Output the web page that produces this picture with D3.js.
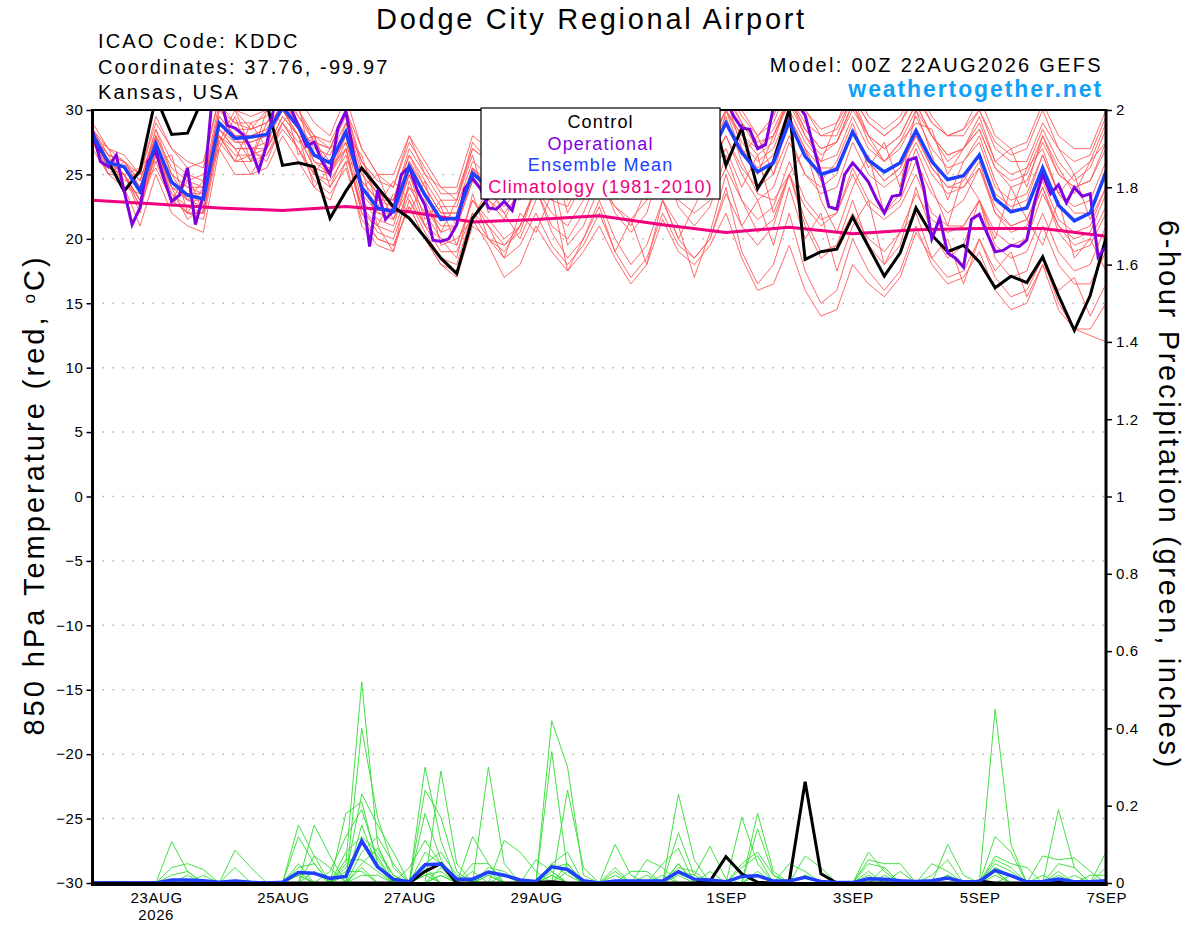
<!DOCTYPE html>
<html>
<head>
<meta charset="utf-8">
<script src="https://cdn.jsdelivr.net/npm/d3@7"></script>
<style>
body { margin: 0; background: #fff; }
svg { display: block; font-family: "Liberation Sans", Arial, Helvetica, sans-serif; }
</style>
</head>
<body>
<script>
// ---- data: 6-hourly (0..384 h from 00Z 22AUG2026) ----
var controlTemp = [27.8,26.0,23.7,25.3,31,28.1,28.2,31, 32,32,32,30.5,25.7,25.9,25.6,21.6,
   23.7,25.5,24.0,22.5,21.6,20.1,18.5,17.3, 21.6,23.2,24.5,25.5,28.5,27,25.5,26.5,
   29.5,27.5,26,27,30,28,27,30.5, 25.7,28.6,23.9,26.0,30.1,18.4,19.0,19.2,
   21.7,19.4,17.1,18.9,22.4,20.3,19.0,19.5, 18.2,16.2,17.1,16.6,18.6,15.6,12.9,15.6, 20.1]

var meanTemp = [28.1,25.9,25.6,23.7,27.4,24.4,23.4,23.1, 29.0,27.8,27.9,28.1,30.2,28.7,26.5,25.9,
   28.3,24.0,22.4,22.1,25.6,23.4,21.5,21.6, 25.1,24.0,23.1,24.5,27.5,25.5,24.5,26.5,
   28.0,26.0,25.0,26.5,28.5,26.5,25.5,26.5, 29.0,26.7,25.2,25.9,29.1,26.4,25.0,25.4,
   28.3,26.1,25.2,25.9,28.4,26.0,24.6,24.9, 26.5,23.1,22.1,22.4,25.5,22.6,21.4,22.0, 25.2]

// operational run is 3-hourly
var operTemp = [28.4,26.0,25.6,26.5,23.7,21.1,22.4,26.0, 26.8,24.7,22.9,23.4,25.5,21.1,23.4,30.2,
   31.5,28.8,28.6,28.1,27.0,25.3,27.3,30.5, 31.5,30.2,28.8,27.2,27.5,26.0,25.0,28.6,
   29.9,26.5,23.9,19.4,23.8,21.5,22.2,25.0, 25.6,23.8,22.6,19.9,19.8,20.0,21.1,23.9,
   24.7,23.9,22.4,22.3,22.9,22.2,24.5,26.5, 28.0,27.0,25.5,24.5,25.0,26.0,27.5,29.0,
   29.5,27.5,26.0,25.0,25.5,26.5,28.0,29.0, 29.5,28.0,26.5,25.5,26.0,27.0,28.5,30.0,
   30.8,29.5,28.6,28.5,27.0,27.3,30.2,31.5, 31.5,30.5,29.6,27.3,25.0,22.5,22.3,25.0,
   25.9,25.2,24.4,23.1,22.0,23.3,23.4,26.1, 26.3,23.9,20.0,21.6,18.9,18.5,17.8,21.5,
   21.9,20.4,19.0,19.1,19.5,19.4,19.9,22.9, 25.0,23.5,24.2,22.8,24.0,23.3,23.5,18.6, 19.4]

// climatology, one value per day at 00Z
var climTemp = [23.0,22.7,22.4,22.2,22.5,22.1,21.3,21.5,21.8,21.1,20.5,20.9,20.4,20.7,20.8,20.8,20.2]

var redMembers = [
  [28.5,27,26.5,25,29,27,26,25.5, 31,30,29.5,30,32,31,29,28, 31,27,25,25,28,26,24,24,
   28,27,26,27,30,28,27,29, 31,29,28,29,31,29,28,29, 32,30,28,29,32,30,28,28,
   31,29,28,29,31,29,28,28, 30,27,26,26,29,27,25,26, 29],
  [27.5,25,24,21,25,22,21,20.5, 27,25,25,25.5,28,26,24,23, 26,21,19.5,19,23,20.5,18.5,18,
   22,21,19.5,21,24,22,21,23, 24.5,22.5,21.5,23,25,23,22,23, 25.5,23,21.5,22.5,26,23,21.5,22,
   25,22.5,21.5,22.5,25,22,21,21, 23,19.5,18.5,19,22,19,17.5,18, 21],
  [28,26,25,22.5,26.5,23.5,22,22, 28,26.5,26.5,27,29,27,25,24, 27,22.5,21,20.5,24,22,20,19.5,
   23,21.5,20,21,24,20.5,18.5,20, 23,20,18,19.5,23,20,18.5,20, 24,19,16.5,18,22,17.5,15,16,
   20,17.5,16,17.5,21,18,16.5,17, 19,16,14.5,15,18,14.5,13,13, 15],
  [28,26.5,26,24.5,28,25.5,24.5,24, 30,28.5,28.5,29,31,29.5,27.5,27, 29.5,25,23.5,23,26.5,24.5,22.5,22.5,
   26,25,24,25.5,28.5,26.5,25.5,27.5, 29,27,26,27.5,29.5,27.5,26.5,27.5, 30,27.5,26,27,30,27.5,26,26.5,
   29.5,27,26,27,29.5,27,25.5,26, 27.5,24,23,23.5,26.5,23.5,22.5,23, 26],
  [28.5,25.5,25,23,27,23.5,22.5,22, 28.5,27,27,27,29.5,28,25.5,25, 27.5,23,21.5,21,25,22.5,20.5,21,
   24.5,23,22,23.5,26.5,24.5,23.5,25.5, 27,25,24,25.5,27.5,25.5,24.5,25.5, 28,25.5,24,25,28,25,23.5,24,
   27.5,25,24,25,27.5,25,23.5,24, 25.5,22,21,21.5,24.5,21.5,20.5,21, 24],
  [27.5,26,25.5,24,28,25,24,23.5, 29.5,28,28,28.5,30.5,29,26,25, 27,22,20,19.5,22.5,20,18,17,
   21,20,19,21,24,23,22.5,25, 27,25.5,25,27,29,27,26,27.5, 30,28,26.5,27.5,31,28.5,27,27.5,
   30,28,27,28,30.5,28,26.5,27, 28.5,25.5,24,24.5,27.5,25,24,24.5, 27],
  [28,26,25.5,23.5,27,24.5,23.5,23, 28.5,27.5,27.5,28,30,28.5,26.5,26, 28.5,24.5,23,22.5,26,24,22,22,
   25.5,24.5,23.5,25,28,26,25,27, 28.5,26.5,25.5,27,29,27,26,27, 29.5,26,23.5,23,25,21.5,19,19.5,
   22,20,19,20.5,23.5,21.5,20.5,21, 23,20.5,19.5,20,23.5,21,20,20.5, 23.5],
  [28.5,26.5,26,24.5,28.5,26,25,24.5, 30.5,29,29,29.5,31.5,30,28,27.5, 30,26,24.5,24,27.5,25.5,23.5,23.5,
   27,26,25,26.5,29.5,27.5,27,29, 31,29,28,29.5,31.5,29.5,28.5,29.5, 31.5,29,27.5,28,31,28.5,27,27.5,
   30.5,28,27,28,30.5,28,26.5,27, 28.5,25.5,24.5,25,28,25,24,24.5, 27.5],
  [28,25.5,25,22.5,26,23,22,21.5, 27.5,26,26.5,26.5,29,27,25,24.5, 26.5,22.5,20.5,20,23.5,21,19,19,
   22,20,18.5,19.5,22,19.5,18,19.5, 22,19,17,18.5,22,19.5,18.5,20, 23.5,21,19.5,21,25,22.5,21,22,
   25.5,23,22,23,26,23.5,22,23, 25.5,22.5,21,21.5,24,21,19.5,20, 22.5],
  [27.5,26,25,23,26.5,24,23.5,23.5, 29,28,28,28.5,30.5,29,27,26.5, 29,24.5,23,23,26.5,24,22,22,
   25.5,24,23,24,26.5,24,23,25, 27,25,24.5,26,28,26,25,26.5, 29,27,25.5,26.5,29.5,27,25.5,25.5,
   28.5,26,24.5,25.5,28,25.5,24,24, 26,22,20.5,21,24,20.5,19,19.5, 22],
  [28,26,25.5,23.5,27.5,24.5,23,23, 29,27.5,27.5,28,30,28.5,26,25.5, 28,23.5,22,21.5,25,22.5,21,21,
   24.5,23.5,22.5,24,27,25,24,26, 28,26,25,26.5,28.5,26.5,25.5,27, 30,28,27,28,31,29,28,28.5,
   31,29,28,29,31.5,29,28,28.5, 30,27.5,26.5,27,30,27,26,26.5, 29.5],
  [28.5,26,25,23,26.5,23,22,22, 28,26,26,26.5,28.5,27,24.5,23.5, 25.5,21.5,20,19.5,22.5,20,18,17.5,
   21.5,19.5,17,18,21,19,17.5,19, 21,18.5,16.5,18,21.5,19,18,19.5, 22,18.5,16,16.5,19.5,16,14,14.5,
   18,16.5,15.5,17,20.5,18.5,17,17.5, 20,17,15.5,16,18.5,15,13,12.5, 12],
  [28,26.5,26,24,28.5,25,24,24, 30,29,28.5,29,31,30,27.5,27, 30,25.5,23.5,23,27,25,23,23,
   27,26,25,26.5,29,27,26,28, 30,28,27,28.5,30.5,28.5,27.5,29, 32,29.5,28,29.5,32.5,30,28.5,29,
   32,29.5,28.5,29.5,32,29.5,28,28.5, 31,28,27,27.5,30.5,28,27,27, 30],
  [27.5,25.5,25,23,27,24,23,22.5, 28.5,27,27,27.5,30,28,25.5,25, 28,24,22,22,26,23.5,21.5,21.5,
   25.5,24,23,24.5,27.5,25.5,24.5,26.5, 28.5,26.5,25.5,27,29,26.5,25,26, 28,25,23,24,27.5,25,24,25,
   28.5,26,24.5,25.5,28,25.5,24,24.5, 26.5,23.5,22.5,23,26.5,23.5,22,22, 25.5],
  [28,27,24.5,25,26,26.5,22,24, 27,29.5,26,30,29,27.5,28,24, 26,25.5,21,23.5,22,24.5,19.5,20,
   21.5,24,22,20,23,25,19.5,21, 24,22.5,21,24,23,20,22.5,25, 27,24,26.5,22,25,27,23,20.5,
   24,26.5,22,23.5,27,24,21,25, 23,20,24,21.5,19.5,23,18.5,20, 17.5],
  [27,25,26,24,25.5,23,25,22, 28,26,29,27,31,26.5,28,25, 29,26,24,21.5,24,23,20.5,23,
   26.5,22,24,23,25,26.5,22,24.5, 27,24.5,26.5,23,28,25,27.5,24, 30,26.5,28,25,29.5,27,24.5,26,
   29,25.5,27.5,24,30,26.5,23,26, 28,24.5,22,25.5,27,23.5,25,21.5, 24],
  [28.5,26.5,24,23.5,28,22.5,24.5,25, 27.5,30,27,26,29,30.5,25,27, 28,26.5,22.5,24.5,23,21,22.5,19.5,
   23,21,18.5,22,20.5,23.5,17.5,20, 22.5,19,21.5,18,23,21,17,20.5, 25,21,23,19.5,24,20,22,17.5,
   21,23,18,20.5,22,18.5,20,16.5, 20,17.5,19,15.5,18,16,17,14, 16.5],
  [27.5,26,25,25.5,27,25,23,24.5, 29.5,28,26,29,30,28,27.5,26, 27.5,24,25,22,25,21.5,23,21,
   25.5,23,21.5,24,27,23,25,24, 29,26,23.5,26.5,29.5,25,26,28, 31,27,25,28,30.5,28,26,29,
   31,28,26,27.5,29,28.5,25,27, 29.5,26,27,24,28,25.5,23.5,26, 27.5],
  [29,27,26,25,29.5,27,25.5,26, 31,30,28.5,30,32,29.5,28,27, 30,27,25,24,28,25,24,23,
   27.5,26,24.5,26,29,27.5,26,28, 31.5,29,27.5,28.5,32,30,28,30, 31,29,27,28.5,31,28,26.5,27.5,
   30.5,27.5,26,27.5,30,28,26,27, 29,26,25,25.5,28.5,26,24.5,25.5, 28.5],
  [28,25,25,22,27,24,21.5,22.5, 28,27,25,27,29.5,28,24,25.5, 27,22,21,19,24.5,21,20,18.5,
   23.5,20,19.5,20.5,24,21,20,22, 25,22,20.5,22,26,22.5,21,22.5, 26.5,23,20.5,21.5,25,21,18.5,19.5,
   23,19.5,18,19.5,24,20.5,18.5,19.5, 23,18.5,17,17.5,21,18,16.5,16.5, 19]
]

// 6-hour precipitation (inches)
var controlPrecip = [0,0,0,0,0,0,0,0, 0,0,0,0,0,0,0,0, 0,0,0,0,0,.03,.05,0,
   0,0,0,0,.002,.003,0,0, 0,0,0,0,0,0,0,.005, .068,.024,.002,0,.005,.262,.024,0,
   0,0,0,0,0,0,0,0, .005,0,0,0,0,.002,0,0, 0]

var meanPrecip = [0,0,0,0,0,.008,.008,.006, .002,.005,.002,0,.002,.027,.025,.012,
   .017,.109,.042,.01,.003,.047,.049,.01, .01,.028,.02,.008,.004,.042,.035,.006,
   0,.005,.005,.005,.005,.029,.01,.008, .003,.017,.019,.005,.005,.015,.004,.001,
   .001,.011,.01,.006,.004,.006,.013,.003, .004,.033,.019,.003,.004,.01,.003,.003, .006]

var greenMembers = [
  [0,0,0,0,0,.107,.03,0, 0,0,0,0,0,.02,0,0, .05,.52,.10,0,0,.03,0,0, 0,0,0,0,0,.42,.30,.02,
   0,0,0,0,0,.05,0,0, 0,0,0,0,0,0,0,0, 0,0,0,0,0,0,0,0, 0,.45,.10,0,0,.02,0,0, 0],
  [0,0,0,0,0,.04,.05,.035, 0,0,0,0,0,0,.15,.07, 0,.40,.17,.04,0,0,.29,.05, 0,0,0,0,0,.34,.03,0,
   0,0,0,0,0,.23,.06,0, 0,0,0,0,0,0,0,0, 0,.08,.03,0,0,0,0,0, 0,0,0,0,0,0,0,0, 0],
  [0,0,0,0,0,0,0,0, 0,.085,.04,0,0,.15,.07,0, .02,.23,.15,.08,0,.30,.11,0, 0,.03,0,0,0,0,.24,.04,
   0,0,0,0,0,0,0,0, 0,0,.18,.03,0,0,0,0, 0,0,0,0,0,0,.10,.02, 0,0,0,0,0,.19,.04,0, 0],
  [0,0,0,0,0,0,.02,0, 0,.04,0,0,0,.12,.05,0, .18,.21,.05,0,0,.24,.17,.03, 0,.30,.05,0,0,0,0,0,
   0,.10,.02,0,0,0,0,0, 0,.17,.05,0,0,0,0,0, 0,0,0,0,0,0,0,0, 0,.12,.08,0,0,0,0,0, .08],
  [0,0,0,0,0,0,0,0, 0,0,0,0,0,.05,0,.03, .12,.19,.06,0,.04,.11,.05,0, .12,.05,0,0,0,.05,.08,0,
   0,0,0,0,0,.13,.02,.095, .01,0,0,0,0,.07,.04,0, 0,0,0,0,0,0,0,0, 0,.07,.05,.04,0,0,0,0, 0],
  [0,0,0,0,0,0,0,0, 0,0,0,0,0,0,.07,.04, 0,.15,.04,0,0,.18,.06,0, 0,0,.11,.08,.03,0,0,0,
   0,0,0,.06,.04,0,0,0, 0,0,.14,.02,0,0,0,0, 0,.06,.05,.05,0,.02,.06,0, 0,0,0,0,.07,.06,.065,.03, 0],
  [0,0,0,0,0,0,0,0, 0,0,0,0,0,.03,0,0, .08,.12,.08,.02,0,0,.04,0, .05,.05,0,0,.06,.03,0,0,
   0,.04,0,0,.05,.09,0,0, 0,0,0,0,.05,.03,0,0, 0,0,0,0,0,.05,.03,0, 0,.05,.03,0,0,0,0,0, .04],
  [0,0,0,0,0,0,0,0, 0,0,0,0,0,0,0,0, 0,.08,.12,.05,0,.05,.08,.02, 0,0,0,0,0,.04,.05,0,
   0,0,0,0,0,.04,.03,0, 0,.05,.08,.02,0,0,0,0, 0,.05,.04,0,0,0,0,0, 0,0,0,0,0,.05,.04,0, 0],
  [0,0,0,0,0,.02,.03,0, 0,0,0,0,0,.04,.05,0, .04,.10,.07,0,0,.08,.05,0, 0,.04,.03,0,0,0,.05,0,
   0,0,.03,.03,0,.05,0,.03, 0,.04,.07,0,0,0,0,0, 0,0,.04,0,0,0,0,0, 0,.04,.02,0,0,0,0,0, 0],
  [0,0,0,0,0,0,0,.02, 0,0,0,0,0,0,.03,0, .06,.06,.03,0,0,0,.02,0, .03,0,0,0,0,.05,.02,0,
   0,.03,0,0,0,.03,.02,0, 0,0,0,0,0,.02,0,0, 0,.03,0,.03,0,0,0,0, 0,.03,0,0,.02,0,0,0, 0],
  [0,0,0,0,0,0,0,0, 0,0,0,0,0,.02,0,0, 0,.05,.09,.02,0,.02,.03,0, 0,.02,0,0,0,.02,0,0,
   0,0,0,0,.02,0,0,0, 0,0,.03,0,0,0,0,0, 0,0,0,0,0,0,.02,0, 0,.06,.04,0,0,0,0,.02, .02],
  [0,0,0,0,0,0,0,0, 0,0,0,0,0,0,0,0, .03,.03,0,0,0,.04,0,0, 0,0,.02,0,0,0,.03,0,
   0,0,0,0,0,.02,0,0, 0,.02,0,0,0,0,0,0, 0,.02,0,0,0,0,0,0, 0,.03,0,0,0,.03,0,0, 0],
  [0,.003,.003,0,0,0,0,0, 0,0,0,0,0,0,0,0, 0,.02,.02,0,0,0,.02,0, 0,0,0,0,0,.02,0,0,
   0,0,0,.02,0,0,0,0, 0,0,.02,0,0,0,0,0, 0,0,.02,0,0,0,0,0, 0,0,.02,0,0,0,0,0, 0],
  [0,0,0,0,0,0,0,0, 0,0,0,0,0,0,0,0, 0,.04,0,0,0,.02,0,0, 0,.02,0,0,0,.03,0,0,
   0,.02,0,0,0,0,0,0, 0,0,0,0,0,.02,0,0, 0,0,0,0,0,0,.02,0, 0,.02,0,0,0,0,.02,0, 0]
]

var tempTicks = [-30,-25,-20,-15,-10,-5,0,5,10,15,20,25,30]
var precipTicks = [0,0.2,0.4,0.6,0.8,1,1.2,1.4,1.6,1.8,2]
var dateHours = [24,72,120,168,240,288,336,384]
var dateLabels = ["23AUG","25AUG","27AUG","29AUG","1SEP","3SEP","5SEP","7SEP"]
var legendItems = ["Control","Operational","Ensemble Mean","Climatology (1981-2010)"]
var legendColors = ["#000000","#8000e0","#2040ff","#f0007f"]

// ---- drawing ----
var plotL = 92.5, plotR = 1106, plotT = 110, plotB = 883

var svg = d3.select("body").append("svg")
   .attr("width", 1200)
   .attr("height", 927)

svg.append("rect")
   .attr("width", "100%")
   .attr("height", "100%")
   .style("fill", "white")

var x = d3.scaleLinear().domain([0, 384]).range([plotL, plotR])
var yT = d3.scaleLinear().domain([-30, 30]).range([plotB, plotT])
var yP = d3.scaleLinear().domain([0, 2]).range([plotB, plotT])

svg.append("clipPath").attr("id", "plotclip")
   .append("rect")
   .attr("x", plotL).attr("y", plotT)
   .attr("width", plotR - plotL).attr("height", plotB - plotT)

// dotted grid
svg.append("g").selectAll("line")
   .data(tempTicks.slice(1, -1))
   .enter().append("line")
   .attr("x1", plotL).attr("x2", plotR)
   .attr("y1", function (d) { return yT(d) })
   .attr("y2", function (d) { return yT(d) })
   .style("stroke", "#b0b0b0")
   .style("stroke-width", 1.5)
   .style("stroke-dasharray", "1.5,8.5")

var plot = svg.append("g").attr("clip-path", "url(#plotclip)")

function lineT(step) {
   return d3.line().x(function (d, i) { return x(i * step) }).y(function (d) { return yT(d) })
}
function lineP(step) {
   return d3.line().x(function (d, i) { return x(i * step) }).y(function (d) { return yP(d) })
}

plot.selectAll(".red").data(redMembers).enter().append("path")
   .attr("class", "red")
   .attr("d", lineT(6))
   .style("fill", "none")
   .style("stroke", "#ff5a5a")
   .style("stroke-width", 0.9)

plot.selectAll(".green").data(greenMembers).enter().append("path")
   .attr("class", "green")
   .attr("d", lineP(6))
   .style("fill", "none")
   .style("stroke", "#30dd30")
   .style("stroke-width", 0.9)

plot.append("path").datum(climTemp)
   .attr("d", lineT(24))
   .style("fill", "none").style("stroke", "#f0007f").style("stroke-width", 3)

plot.append("path").datum(controlTemp)
   .attr("d", lineT(6))
   .style("fill", "none").style("stroke", "#000").style("stroke-width", 3)

plot.append("path").datum(operTemp)
   .attr("d", lineT(3))
   .style("fill", "none").style("stroke", "#8000e0").style("stroke-width", 3)

plot.append("path").datum(meanTemp)
   .attr("d", lineT(6))
   .style("fill", "none").style("stroke", "#2040ff").style("stroke-width", 3.5)

plot.append("path").datum(controlPrecip)
   .attr("d", lineP(6))
   .style("fill", "none").style("stroke", "#000").style("stroke-width", 3)

plot.append("path").datum(meanPrecip)
   .attr("d", lineP(6))
   .style("fill", "none").style("stroke", "#2040ff").style("stroke-width", 3.5)

// axes
var leftAxis = svg.append("g")
   .attr("transform", "translate(" + plotL + ",0)")
   .call(d3.axisLeft(yT).tickValues(tempTicks).tickSize(6).tickPadding(3))
var rightAxis = svg.append("g")
   .attr("transform", "translate(" + plotR + ",0)")
   .call(d3.axisRight(yP).tickValues(precipTicks).tickFormat(d3.format("~g")).tickSize(6).tickPadding(4))
var bottomAxis = svg.append("g")
   .attr("transform", "translate(0," + plotB + ")")
   .call(d3.axisBottom(x).tickValues(dateHours).tickFormat(function (d, i) { return dateLabels[i] }).tickSize(0).tickPadding(9))

;[leftAxis, rightAxis, bottomAxis].forEach(function (g) {
   g.select(".domain").remove()
   g.selectAll("text").style("font-size", "15px").style("fill", "#000")
      .style("letter-spacing", "0.6px")
      .style("font-family", "'Liberation Sans', Arial, sans-serif")
   g.selectAll("line").style("stroke", "#000").style("stroke-width", 1.5)
})
bottomAxis.selectAll("text").attr("dx", "0.3px")

svg.append("text")
   .attr("x", x(24) + 0.3).attr("y", 920)
   .attr("text-anchor", "middle")
   .style("font-size", "15px")
   .style("letter-spacing", "0.6px")
   .text("2026")

// frame
svg.append("line").attr("x1", plotL - 1.5).attr("x2", plotR + 1.5).attr("y1", plotT).attr("y2", plotT)
   .style("stroke", "#000").style("stroke-width", 2)
svg.append("line").attr("x1", plotL - 1.5).attr("x2", plotR + 1.5).attr("y1", plotB + 1).attr("y2", plotB + 1)
   .style("stroke", "#000").style("stroke-width", 4)
svg.append("line").attr("x1", plotL).attr("x2", plotL).attr("y1", plotT).attr("y2", plotB + 3)
   .style("stroke", "#000").style("stroke-width", 3)
svg.append("line").attr("x1", plotR).attr("x2", plotR).attr("y1", plotT).attr("y2", plotB + 3)
   .style("stroke", "#000").style("stroke-width", 3)

// legend
var legend = svg.append("g")
legend.append("rect")
   .attr("x", 481).attr("y", 108).attr("width", 239).attr("height", 91)
   .style("fill", "white").style("stroke", "#000").style("stroke-width", 1.2)
legend.selectAll("text").data(legendItems).enter().append("text")
   .attr("x", 600.6)
   .attr("y", function (d, i) { return 128 + i * 21.5 })
   .attr("text-anchor", "middle")
   .style("font-size", "18px")
   .style("letter-spacing", "1.2px")
   .style("fill", function (d, i) { return legendColors[i] })
   .text(function (d) { return d })

// header
svg.append("text").attr("x", 591.5).attr("y", 29).attr("text-anchor", "middle")
   .style("font-size", "29px").style("letter-spacing", "2.7px").text("Dodge City Regional Airport")
var info = ["ICAO Code: KDDC", "Coordinates: 37.76, -99.97", "Kansas, USA"]
svg.append("g").selectAll("text").data(info).enter().append("text")
   .attr("x", 98)
   .attr("y", function (d, i) { return 48 + i * 25.5 })
   .style("font-size", "20px")
   .style("letter-spacing", "2.1px")
   .text(function (d) { return d })
svg.append("text").attr("x", 1103).attr("y", 72).attr("text-anchor", "end")
   .style("font-size", "20px").style("letter-spacing", "2.3px").text("Model: 00Z 22AUG2026 GEFS")
svg.append("text").attr("x", 1103).attr("y", 97).attr("text-anchor", "end")
   .style("font-size", "23px").style("font-weight", "bold").style("fill", "#10a0f8")
   .style("letter-spacing", "1.9px")
   .text("weathertogether.net")

// axis titles
var ylab = svg.append("text")
   .attr("transform", "translate(44,495) rotate(-90)")
   .attr("text-anchor", "middle")
   .style("font-size", "29px")
   .style("letter-spacing", "3px")
ylab.append("tspan").text("850 hPa Temperature (red, ")
ylab.append("tspan").attr("baseline-shift", "super").style("font-size", "17px").text("o")
ylab.append("tspan").text("C)")

svg.append("text")
   .attr("transform", "translate(1159,495) rotate(90)")
   .attr("text-anchor", "middle")
   .style("font-size", "29px")
   .style("letter-spacing", "2.7px")
   .text("6-hour Precipitation (green, inches)")
</script>
</body>
</html>
